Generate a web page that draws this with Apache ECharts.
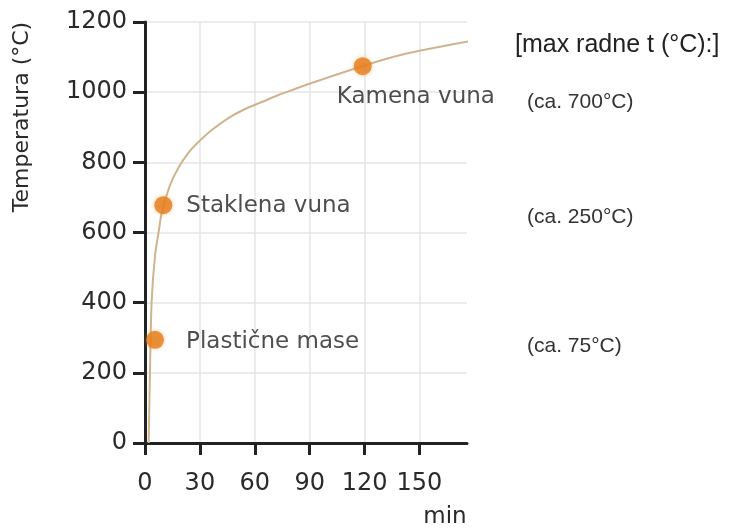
<!DOCTYPE html>
<html>
<head>
<meta charset="utf-8">
<script src="https://cdn.jsdelivr.net/npm/echarts@6/dist/echarts.min.js"></script>
<style>
  html, body { margin: 0; padding: 0; background: #fff; }
  #chart { width: 736px; height: 529px; }
</style>
</head>
<body>
<div id="chart"></div>
<script>
// krivulja temperature (min, °C) očitana sa slike
var curveTime = [2, 2.7, 3.6, 5.5, 7.7, 9.1, 13.7, 18.2, 23.7, 29.2, 36.5, 45.6, 54.7, 63.9, 73, 82, 91, 118.6, 139.6, 157.6, 181];
var curveTemp = [0, 200, 400, 535, 610, 655, 735, 784, 827, 858, 892, 926, 952, 972, 992, 1009, 1026, 1074, 1106, 1126, 1149];

// materijali
var materials = ['Plastične mase', 'Staklena vuna', 'Kamena vuna'];
var matTime = [5.5, 10, 119];
var matTemp = [294, 678, 1074];
var maxTemp = [75, 250, 700];

var xTicks = [0, 30, 60, 90, 120, 150];

// pozicije natpisa (samo izgled)
var labelPos = [[40, 11], [32, 10], [-17, 40]];
var noteY = [346, 217, 102];

var curveData = [];
for (var i = 0; i < curveTime.length; i++) {
  curveData.push([curveTime[i], curveTemp[i]]);
}
var dotData = [];
for (var j = 0; j < materials.length; j++) {
  dotData.push({
    name: materials[j],
    value: [matTime[j], matTemp[j]],
    label: { position: labelPos[j] }
  });
}

var graphics = [
  {
    type: 'text', x: 22, y: 117, rotation: Math.PI / 2,
    style: { text: 'Temperatura (°C)', font: '22px "DejaVu Sans"', fill: '#2a2a2a',
      align: 'center', verticalAlign: 'middle' }
  },
  {
    type: 'text', x: 445, y: 517,
    style: { text: 'min', font: '23px "DejaVu Sans"', fill: '#2a2a2a',
      align: 'center', verticalAlign: 'middle' }
  },
  {
    type: 'text', x: 515, y: 45,
    style: { text: '[max radne t (°C):]', font: '25px "Liberation Sans"', fill: '#222',
      align: 'left', verticalAlign: 'middle' }
  }
];
for (var k = 0; k < maxTemp.length; k++) {
  graphics.push({
    type: 'text', x: 527, y: noteY[k],
    style: { text: '(ca. ' + maxTemp[k] + '°C)', font: '21px "Liberation Sans"', fill: '#333',
      align: 'left', verticalAlign: 'middle' }
  });
}

var option = {
  backgroundColor: '#fff',
  animation: false,
  grid: { left: 145, right: 269, top: 22, bottom: 86 },
  xAxis: {
    type: 'value', min: 0, max: 176, interval: 30,
    axisLine: { show: true, onZero: false, lineStyle: { color: '#222', width: 3 } },
    axisTick: { show: true, length: 12, customValues: xTicks, lineStyle: { color: '#222', width: 3 } },
    axisLabel: { customValues: xTicks, margin: 29, color: '#2a2a2a', fontSize: 24, fontFamily: 'DejaVu Sans' },
    splitLine: { show: true, lineStyle: { color: '#e6e6e6', width: 1.5 } }
  },
  yAxis: {
    type: 'value', min: 0, max: 1200, interval: 200,
    axisLine: { show: true, lineStyle: { color: '#222', width: 3 } },
    axisTick: { show: true, length: 12, lineStyle: { color: '#222', width: 3 } },
    axisLabel: {
      margin: 18, color: '#2a2a2a', fontSize: 24, fontFamily: 'DejaVu Sans',
      formatter: function (v) { return String(v); }
    },
    splitLine: { show: true, lineStyle: { color: '#e6e6e6', width: 1.5 } }
  },
  series: [
    {
      type: 'line', data: curveData, smooth: 0.25,
      showSymbol: false, clip: false,
      lineStyle: { color: '#cfb48f', width: 2 }
    },
    {
      type: 'scatter', data: dotData, symbolSize: 18,
      itemStyle: { color: '#e57c1c', shadowBlur: 4, shadowColor: 'rgba(240,150,60,0.6)' },
      label: {
        show: true, formatter: '{b}', align: 'left', verticalAlign: 'middle',
        color: '#222', fontSize: 23, fontFamily: 'DejaVu Sans'
      },
      z: 5
    }
  ],
  graphic: graphics
};

var myChart = echarts.init(document.getElementById('chart'));
myChart.setOption(option);
</script>
</body>
</html>
